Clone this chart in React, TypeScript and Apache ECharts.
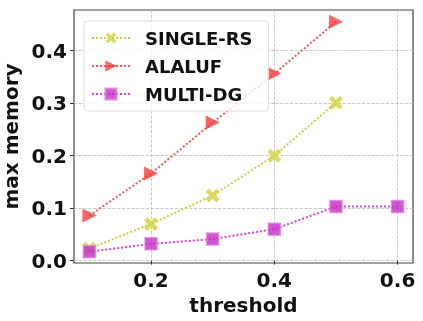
import React, { useEffect, useRef } from "react";
import * as echarts from "echarts";

const thresholds = [0.1, 0.2, 0.3, 0.4, 0.5, 0.6];
const singleRS = [0.023, 0.07, 0.124, 0.2, 0.301];
const alaluf = [0.086, 0.166, 0.263, 0.356, 0.455];
const multiDG = [0.017, 0.032, 0.041, 0.06, 0.103, 0.103];
const xTicks = [0.2, 0.4, 0.6];
const yTicks = [0.0, 0.1, 0.2, 0.3, 0.4];

const X_PATH = "path://M0,1.4 L1.4,0 L3,1.6 L4.6,0 L6,1.4 L4.4,3 L6,4.6 L4.6,6 L3,4.4 L1.4,6 L0,4.6 L1.6,3 Z";
const TRI_PATH = "path://M0,0 L10,5 L0,10 Z";

const pairs = (ys: number[]) => ys.map((y, i) => [thresholds[i], y]);

export default function App() {
  const ref = useRef<HTMLDivElement>(null);
  useEffect(() => {
    const chart = echarts.init(ref.current!, null, { renderer: "svg" });
    const font = "DejaVu Sans";
    chart.setOption({
      animation: false,
      grid: { left: 74, right: 10, top: 10, bottom: 58, show: true, borderColor: "#444", borderWidth: 1.2, outerBoundsMode: "none", containLabel: false },
      legend: {
        orient: "vertical",
        left: 84,
        top: 21,
        width: 160,
        padding: [8, 16, 8, 7],
        itemGap: 10,
        itemWidth: 38,
        itemHeight: 14,
        backgroundColor: "rgba(255,255,255,0.8)",
        borderColor: "#ddd",
        borderWidth: 1,
        borderRadius: 4,
        textStyle: { fontFamily: font, fontWeight: "bold", fontSize: 18, color: "#111", padding: [0, 0, 0, 10], lineHeight: 18 },
        data: ["SINGLE-RS", "ALALUF", "MULTI-DG"],
      },
      xAxis: {
        type: "value",
        min: 0.075,
        max: 0.625,
        name: "threshold",
        nameLocation: "middle",
        nameGap: 28,
        nameTextStyle: { fontFamily: font, fontWeight: "bold", fontSize: 20, color: "#111" },
        axisLine: { show: false },
        axisTick: { show: true, customValues: xTicks, length: 4, lineStyle: { color: "#333" } },
        axisLabel: { customValues: xTicks, fontFamily: font, fontWeight: "bold", fontSize: 20, color: "#111", margin: 7, formatter: (v: number) => v.toFixed(1) },
        splitLine: { show: true, lineStyle: { type: "dashed", color: "#bbb", width: 0.8 } },
      },
      yAxis: {
        type: "value",
        min: -0.0045,
        max: 0.4775,
        name: "max memory",
        nameLocation: "middle",
        nameGap: 44,
        nameTextStyle: { fontFamily: font, fontWeight: "bold", fontSize: 20, color: "#111" },
        axisLine: { show: false },
        axisTick: { show: true, customValues: yTicks, length: 4, lineStyle: { color: "#333" } },
        axisLabel: { customValues: yTicks, fontFamily: font, fontWeight: "bold", fontSize: 20, color: "#111", margin: 7, formatter: (v: number) => v.toFixed(1) },
        splitLine: { show: true, lineStyle: { type: "dashed", color: "#bbb", width: 0.8 } },
      },
      series: [
        {
          name: "SINGLE-RS",
          type: "line",
          data: pairs(singleRS),
          symbol: X_PATH,
          symbolSize: 14,
          itemStyle: { color: "#d6d64a", opacity: 0.85 },
          lineStyle: { color: "#d0d040", type: "dotted", width: 2 },
          z: 2,
        },
        {
          name: "ALALUF",
          type: "line",
          data: pairs(alaluf),
          symbol: TRI_PATH,
          symbolSize: 14,
          itemStyle: { color: "#ff3a3a", opacity: 0.8 },
          lineStyle: { color: "#ff5555", type: "dotted", width: 2 },
          z: 3,
        },
        {
          name: "MULTI-DG",
          type: "line",
          data: pairs(multiDG),
          symbol: "rect",
          symbolSize: 12,
          itemStyle: { color: "#c42ac4", opacity: 0.8, borderColor: "#e080e0", borderWidth: 1.5 },
          lineStyle: { color: "#dd44dd", type: "dotted", width: 2 },
          z: 4,
        },
      ],
    });
    return () => chart.dispose();
  }, []);
  return <div ref={ref} style={{ position: "fixed", left: 0, top: 0, width: 423, height: 321 }} />;
}
